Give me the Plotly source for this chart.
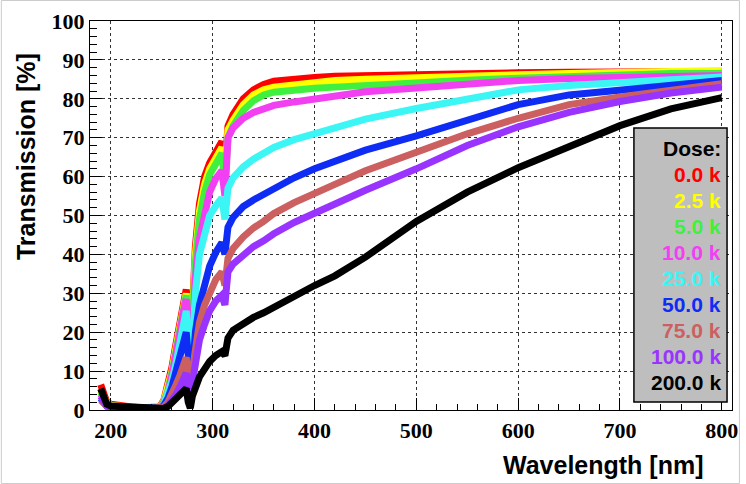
import plotly.graph_objects as go

# wavelength samples [nm]
wavelength = [190, 193, 196, 200, 210, 220, 230, 240, 248, 252, 256, 260, 264, 268,
              271, 274, 276, 278, 280, 283, 287, 292, 297, 303, 309, 312, 315, 320,
              330, 340, 350, 360, 380, 400, 420, 450, 500, 550, 600, 650, 700, 750, 800]

# transmission [%] per dose
t_0k = [6.5, 3.5, 2, 1.5, 1, 0.8, 0.6, 0.6, 0.8, 2.5, 6, 11, 17, 23,
        28, 31, 24, 4, 24, 42, 53, 60, 63.5, 66.5, 69, 62, 73, 76,
        80, 82.3, 83.7, 84.5, 85.2, 85.5, 85.8, 86, 86.2, 86.5, 86.7, 86.8, 87, 87, 87]
t_2k5 = [5, 3, 1.8, 1.2, 0.8, 0.6, 0.5, 0.5, 0.7, 2.2, 5.5, 10, 16, 22,
         27, 30, 23, 4, 22, 40, 51, 58, 62, 65, 67.5, 60, 72, 74.5,
         78.5, 81, 82.3, 83, 83.7, 84.2, 84.7, 85, 85.5, 85.8, 86.2, 86.5, 86.8, 87, 87.3]
t_5k = [4.5, 2.8, 1.5, 1, 0.7, 0.5, 0.5, 0.5, 0.7, 2, 5, 9.5, 15, 21,
        26, 29.5, 22, 4, 21, 38, 49, 56, 60.5, 63.5, 66, 58, 70, 73,
        77, 79.5, 81, 81.7, 82.3, 82.7, 83, 83.5, 84.2, 84.8, 85.3, 85.8, 86.2, 86.5, 86.5]
t_10k = [4, 2.5, 1.5, 1, 0.7, 0.5, 0.5, 0.5, 0.6, 1.8, 4.5, 9, 14, 20,
         25, 28.5, 21, 3, 18, 34, 44, 51, 56, 59.5, 61.5, 55, 70, 72.5,
         75, 76.5, 77.3, 78.3, 79.2, 80, 80.8, 81.8, 82.8, 83.8, 84.7, 85.2, 85.6, 85.8, 86]
t_25k = [3, 2, 1.2, 0.8, 0.6, 0.5, 0.5, 0.5, 0.6, 1.5, 4, 7.5, 12, 17,
         22, 25.5, 18, 3, 16, 30, 40, 46, 50, 52.5, 54.5, 49, 57, 59.7,
         62.5, 64.5, 66, 67.5, 69.5, 71, 72.8, 74.8, 77.5, 80, 82.3, 83.4, 84.3, 84.9, 85.6]
t_50k = [3, 2, 1, 0.8, 0.6, 0.5, 0.5, 0.5, 0.5, 1.2, 3, 6, 9.5, 13.5,
         17, 20, 14, 2, 12, 20, 27, 33, 37, 40.5, 43, 40, 47, 49.5,
         52.3, 54, 55.5, 57, 59.7, 62, 64, 66.8, 70.5, 74.5, 78.5, 81, 82.3, 83.8, 84.7]
t_75k = [2.5, 1.5, 1, 0.7, 0.5, 0.4, 0.4, 0.4, 0.4, 0.8, 2, 4, 6.5, 9,
         11.5, 13.5, 9, 1.5, 10, 17, 22.5, 27, 30.5, 33.5, 35.5, 32, 39, 41.5,
         44.5, 46.8, 48.5, 50.5, 53.3, 55.5, 58, 61.5, 66.2, 71, 75, 78.5, 80.5, 82.3, 83.9]
t_100k = [3.5, 2, 1, 0.6, 0.4, 0.4, 0.3, 0.3, 0.3, 0.5, 1.2, 2.5, 4, 6,
          8, 9.5, 5, 1, 7, 13, 18, 22, 25.5, 28, 29.5, 27, 35.5, 37.5,
          40, 42, 43.5, 45.3, 48.2, 50.7, 53, 56.5, 62, 68, 72.8, 76.5, 79.3, 81.5, 83]
t_200k = [5.5, 3, 1.5, 1, 0.8, 0.6, 0.5, 0.3, 0.2, 0.4, 0.9, 2, 3, 4,
          5, 5.5, 2, 0.5, 3.5, 6, 8.5, 10.5, 12.5, 14, 15, 14, 18.5, 20.5,
          22.3, 23.8, 25, 26.5, 29.5, 32, 34.5, 39.3, 48.5, 56, 62.3, 67.8, 73.1, 77.4, 80.3]

dose_labels = ["0.0 k", "2.5 k", "5.0 k", "10.0 k", "25.0 k",
               "50.0 k", "75.0 k", "100.0 k", "200.0 k"]
colors = ["#ff0000", "#ffff00", "#40f040", "#f23ff2", "#3cf5f5",
          "#0f2cf5", "#cc6060", "#9933ff", "#000000"]
series = [t_0k, t_2k5, t_5k, t_10k, t_25k, t_50k, t_75k, t_100k, t_200k]

W, H = 746, 484
L, R, T, B = 90, 8, 21, 74
pw, ph = W - L - R, H - T - B


def px(x):
    return (x - L) / pw


def py(y):
    return (H - B - y) / ph


fig = go.Figure()
for label, color, values in zip(dose_labels, colors, series):
    fig.add_trace(go.Scatter(
        x=wavelength, y=values, mode="lines", name=label,
        line=dict(color=color, width=7), showlegend=False,
    ))

tick_font = dict(family="Liberation Serif", size=22, color="black", weight="bold")
axis_common = dict(
    showline=True, mirror=True, linecolor="black", linewidth=1,
    ticks="inside", tickcolor="black", ticklen=12, tickwidth=1,
    showgrid=True, gridcolor="#333333", griddash="dot", gridwidth=1,
    zeroline=False, tickfont=tick_font,
)
fig.update_xaxes(range=[179.5, 810], dtick=100, tick0=0,
                 minor=dict(dtick=20, ticks="inside", ticklen=6, tickcolor="black", showgrid=False),
                 ticklabelstandoff=1, **axis_common)
fig.update_yaxes(range=[0, 100], dtick=10, tick0=0,
                 minor=dict(dtick=2, ticks="inside", ticklen=7, tickcolor="black", showgrid=False),
                 ticklabelstandoff=0, **axis_common)

title_font = dict(family="Liberation Sans", size=25, color="black", weight="bold")
annotations = [
    dict(text="Wavelength [nm]", x=px(711), y=py(465), xanchor="right", yanchor="middle",
         font=title_font),
    dict(text="Transmission [%]", x=px(25), y=py(51), xanchor="center", yanchor="top",
         textangle=-90, font=title_font),
]

# legend box (drawn by hand: coloured text, no symbols)
legend_font = dict(family="Liberation Sans", size=21, weight="bold")
annotations.append(dict(text="Dose:", x=px(729), y=py(148), xanchor="right", yanchor="middle",
                        font=dict(color="black", **legend_font)))
for i, (label, color) in enumerate(zip(dose_labels, colors)):
    annotations.append(dict(text=label, x=px(729), y=py(174 + i * 26), xanchor="right",
                            yanchor="middle", font=dict(color=color, **legend_font)))
for a in annotations:
    a.update(xref="paper", yref="paper", showarrow=False)

shapes = [
    dict(type="rect", xref="paper", yref="paper", x0=px(639), x1=px(733), y0=py(402), y1=py(128),
         fillcolor="#bebebe", line=dict(color="black", width=1.5), layer="above"),
    dict(type="rect", xref="paper", yref="paper", x0=px(0.5), x1=px(745.5), y0=py(483.5), y1=py(0.5),
         line=dict(color="#cccccc", width=1)),
]

fig.update_layout(
    width=W, height=H,
    margin=dict(l=L, r=R, t=T, b=B),
    paper_bgcolor="white", plot_bgcolor="white",
    annotations=annotations, shapes=shapes,
)

fig.write_html("out.html", config={"displayModeBar": False},
               post_script="document.body.style.margin='0px';")
